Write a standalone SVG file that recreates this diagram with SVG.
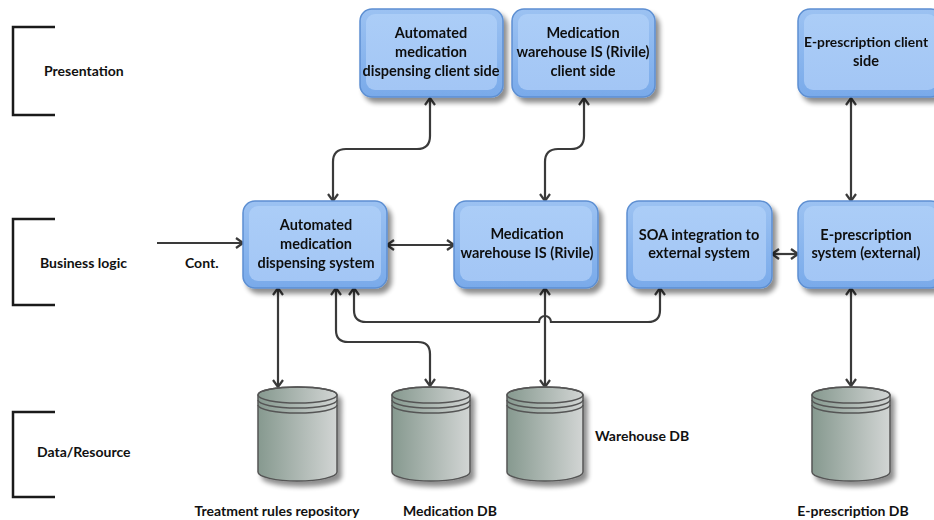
<svg xmlns="http://www.w3.org/2000/svg" width="934" height="520" viewBox="0 0 934 520">
<defs>
<linearGradient id="gOuter" x1="0" y1="0" x2="0" y2="1">
<stop offset="0" stop-color="#9cc2f2"/><stop offset="1" stop-color="#79aaea"/>
</linearGradient>
<linearGradient id="gInner" x1="0" y1="0" x2="0" y2="1">
<stop offset="0" stop-color="#abcdf7"/><stop offset="1" stop-color="#a3c6f5"/>
</linearGradient>
<linearGradient id="gCyl" x1="0" y1="0" x2="1" y2="0">
<stop offset="0" stop-color="#86998f"/><stop offset="1" stop-color="#d2d5d4"/>
</linearGradient>
<filter id="sh" x="-20%" y="-20%" width="150%" height="150%">
<feGaussianBlur in="SourceAlpha" stdDeviation="2.5"/>
<feOffset dx="4" dy="5" result="b"/>
<feComponentTransfer><feFuncA type="linear" slope="0.45"/></feComponentTransfer>
<feMerge><feMergeNode/><feMergeNode in="SourceGraphic"/></feMerge>
</filter>
<marker id="arr" viewBox="0 0 10 12" refX="9" refY="6" markerWidth="10" markerHeight="12" markerUnits="userSpaceOnUse" orient="auto-start-reverse">
<path d="M2,1 L9,6 L2,11" fill="none" stroke="#3a3a3a" stroke-width="2.2"/>
</marker>
</defs>
<style>
.box{fill:url(#gOuter);stroke:#5d8fd2;stroke-width:1.5}
.inner{fill:url(#gInner);stroke:none}
.t{font-family:Lato,"Liberation Sans",sans-serif;font-weight:bold;font-size:14.5px;fill:#111;text-anchor:middle}
.l{font-family:Lato,"Liberation Sans",sans-serif;font-weight:bold;font-size:14px;fill:#111}
.c{fill:none;stroke:#3a3a3a;stroke-width:2.2}
.br{fill:none;stroke:#1a1a1a;stroke-width:2.5}
.cyl{fill:url(#gCyl);stroke:#555;stroke-width:1.5}
.ring{fill:none;stroke:#555;stroke-width:1.5}
</style>

<g id="layers">
<path class="br" d="M55,27 L13,27 L13,115 L55,115"/>
<path class="br" d="M55,219 L13,219 L13,305 L55,305"/>
<path class="br" d="M55,412 L13,412 L13,497 L55,497"/>
<text class="l" x="44" y="76">Presentation</text>
<text class="l" x="40" y="268">Business logic</text>
<text class="l" x="37" y="457">Data/Resource</text>
</g>

<g id="connectors">
<path class="c" d="M157,243 L243,243" marker-end="url(#arr)"/>
<path class="c" d="M333,201 L333,162 Q333,149 346,149 L417,149 Q430,149 430,136 L430,98" marker-start="url(#arr)" marker-end="url(#arr)"/>
<path class="c" d="M545,201 L545,162 Q545,149 558,149 L571,149 Q584,149 584,136 L584,98" marker-start="url(#arr)" marker-end="url(#arr)"/>
<path class="c" d="M851,98 L851,201" marker-start="url(#arr)" marker-end="url(#arr)"/>
<path class="c" d="M387,245 L454,245" marker-start="url(#arr)" marker-end="url(#arr)"/>
<path class="c" d="M772,254 L798,254" marker-start="url(#arr)" marker-end="url(#arr)"/>
<path class="c" d="M278,288 L278,387" marker-start="url(#arr)" marker-end="url(#arr)"/>
<path class="c" d="M336,288 L336,330 Q336,342 348,342 L418,342 Q430,342 430,354 L430,386" marker-start="url(#arr)" marker-end="url(#arr)"/>
<path class="c" d="M354,288 L354,310 Q354,322 366,322 L539,322 A6,6 0 0 1 551,322 L648,322 Q660,322 660,310 L660,288" marker-start="url(#arr)" marker-end="url(#arr)"/>
<path class="c" d="M545,288 L545,387" marker-start="url(#arr)" marker-end="url(#arr)"/>
<path class="c" d="M851,288 L851,386" marker-start="url(#arr)" marker-end="url(#arr)"/>
<text class="l" x="185" y="268">Cont.</text>
</g>

<g id="n-adc-client" filter="url(#sh)">
<rect class="box" x="360" y="9" width="143" height="88" rx="12"/>
<rect class="inner" x="366" y="14" width="131" height="76" rx="9"/>
<text class="t" x="431" y="38">Automated</text>
<text class="t" x="431" y="57">medication</text>
<text class="t" x="431" y="76">dispensing client side</text>
</g>
<g id="n-mw-client" filter="url(#sh)">
<rect class="box" x="512" y="9" width="143" height="88" rx="12"/>
<rect class="inner" x="518" y="14" width="131" height="76" rx="9"/>
<text class="t" x="583" y="38">Medication</text>
<text class="t" x="583" y="57">warehouse IS (Rivile)</text>
<text class="t" x="583" y="76">client side</text>
</g>
<g id="n-ep-client" filter="url(#sh)">
<rect class="box" x="798" y="9" width="145" height="88" rx="12"/>
<rect class="inner" x="804" y="14" width="133" height="76" rx="9"/>
<text class="t" x="866" y="47" style="font-size:13.8px">E-prescription client</text>
<text class="t" x="866" y="66">side</text>
</g>
<g id="n-ads" filter="url(#sh)">
<rect class="box" x="243" y="201" width="144" height="87" rx="12"/>
<rect class="inner" x="249" y="206" width="132" height="75" rx="9"/>
<text class="t" x="316" y="230">Automated</text>
<text class="t" x="316" y="249">medication</text>
<text class="t" x="316" y="268">dispensing system</text>
</g>
<g id="n-mw" filter="url(#sh)">
<rect class="box" x="454" y="201" width="144" height="87" rx="12"/>
<rect class="inner" x="460" y="206" width="132" height="75" rx="9"/>
<text class="t" x="527" y="239">Medication</text>
<text class="t" x="527" y="258">warehouse IS (Rivile)</text>
</g>
<g id="n-soa" filter="url(#sh)">
<rect class="box" x="627" y="201" width="145" height="87" rx="12"/>
<rect class="inner" x="633" y="206" width="133" height="75" rx="9"/>
<text class="t" x="699" y="240">SOA integration to</text>
<text class="t" x="699" y="258">external system</text>
</g>
<g id="n-ep" filter="url(#sh)">
<rect class="box" x="798" y="201" width="145" height="87" rx="12"/>
<rect class="inner" x="804" y="206" width="133" height="75" rx="9"/>
<text class="t" x="866" y="240">E-prescription</text>
<text class="t" x="866" y="258">system (external)</text>
</g>

<g id="db-treatment">
<g filter="url(#sh)">
<path class="cyl" d="M258,395 L258,472 A39.5,9 0 0 0 337,472 L337,395 A39.5,8 0 0 0 258,395 Z"/>
<ellipse class="ring" cx="297.5" cy="395" rx="39.5" ry="8"/>
<path class="ring" d="M258,400 A39.5,8 0 0 0 337,400 M258,405 A39.5,8 0 0 0 337,405"/>
</g>
<text class="l" x="277" y="516" text-anchor="middle">Treatment rules repository</text>
</g>
<g id="db-medication">
<g filter="url(#sh)">
<path class="cyl" d="M392,395 L392,472 A39,9 0 0 0 470,472 L470,395 A39,8 0 0 0 392,395 Z"/>
<ellipse class="ring" cx="431" cy="395" rx="39" ry="8"/>
<path class="ring" d="M392,400 A39,8 0 0 0 470,400 M392,405 A39,8 0 0 0 470,405"/>
</g>
<text class="l" x="450" y="516" text-anchor="middle">Medication DB</text>
</g>
<g id="db-warehouse">
<g filter="url(#sh)">
<path class="cyl" d="M507,395 L507,472 A38,9 0 0 0 583,472 L583,395 A38,8 0 0 0 507,395 Z"/>
<ellipse class="ring" cx="545" cy="395" rx="38" ry="8"/>
<path class="ring" d="M507,400 A38,8 0 0 0 583,400 M507,405 A38,8 0 0 0 583,405"/>
</g>
<text class="l" x="595" y="441">Warehouse DB</text>
</g>
<g id="db-eprescription">
<g filter="url(#sh)">
<path class="cyl" d="M812,395 L812,472 A39,9 0 0 0 890,472 L890,395 A39,8 0 0 0 812,395 Z"/>
<ellipse class="ring" cx="851" cy="395" rx="39" ry="8"/>
<path class="ring" d="M812,400 A39,8 0 0 0 890,400 M812,405 A39,8 0 0 0 890,405"/>
</g>
<text class="l" x="853" y="516" text-anchor="middle">E-prescription DB</text>
</g>
</svg>
